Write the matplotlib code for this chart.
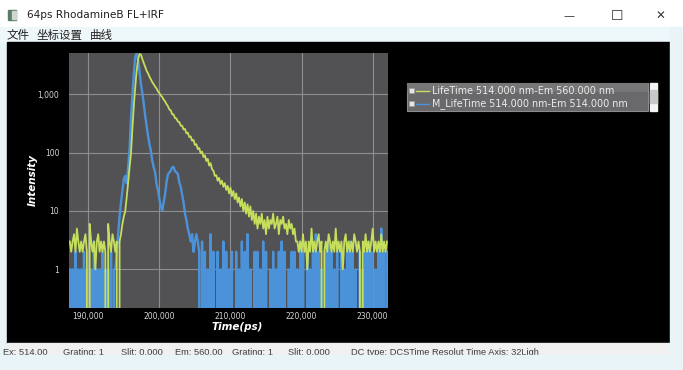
import numpy as np
import matplotlib
matplotlib.use("Agg")
import matplotlib.pyplot as plt
from matplotlib.patches import Rectangle
from matplotlib.ticker import FixedLocator, FixedFormatter, NullLocator

plt.rcParams["path.simplify"] = False

# ---------------- data ----------------
time_start = 187400      # ps, first channel shown
time_step = 200          # ps per plotted channel

# Fluorescence decay: LifeTime 514.000 nm-Em 560.000 nm
fl_counts = [
    3, 2, 3, 4, 2, 5, 3, 2, 3, 2, 3, 4, 2, 0, 6, 3, 2, 3, 1, 3,
    4, 2, 3, 2, 3, 2, 0, 6, 3, 2, 4, 3, 2, 3, 0,
    3, 4, 6, 8, 10, 17, 30, 55, 95, 250, 620, 1300, 2500, 3900, 4900,
    4800, 4020, 3430, 2960, 2540, 2290, 2010, 1810, 1610, 1490,
    1350, 1260, 1120, 1050, 950, 900, 810, 755, 680, 625,
    550, 530, 455, 450, 390, 385, 340, 335, 290, 290,
    250, 255, 215, 220, 185, 190, 160, 165, 135, 140,
    115, 120, 98, 104, 84, 90, 72, 78, 60, 66, 52,
    49, 40, 41, 33, 37, 29, 33, 26, 30, 23, 27, 20, 25, 18, 22, 16, 20, 14, 17, 12,
    16, 10, 14, 9, 13, 8, 12, 7, 10, 6, 9, 5, 8, 6, 9, 5, 7, 4, 8, 5,
    7, 6, 9, 5, 6, 8, 4, 7, 6, 8, 5, 6, 4, 7, 5, 6, 4, 5, 3,
    3, 2, 3, 2, 4, 2, 3, 1, 3, 2, 5, 2, 3, 2, 3, 4, 2, 3, 0, 2,
    3, 2, 4, 3, 2, 3, 2, 5, 2, 3, 2, 3, 1, 3, 4, 2, 3, 2, 3, 2,
    4, 3, 2, 3, 2, 0, 3, 2, 4, 2, 3, 2, 3, 5, 2, 3, 2, 3, 2, 4,
    2, 3, 2, 3,
]

# Instrument response: M_LifeTime 514.000 nm-Em 514.000 nm
irf_counts = [
    1, 0, 1, 0, 2, 0, 1, 0, 1, 0, 2, 0, 1, 0, 0, 1, 0, 3, 0, 1,
    0, 1, 0, 2, 0, 1, 0, 1, 0, 2, 0, 1,
    1, 2, 4, 8, 14, 22, 35, 40, 30, 55, 110, 380, 950, 2200, 4300, 5000, 3900, 2500, 1500, 1050,
    700, 430, 290, 195, 140, 108, 72, 56, 46, 29, 23, 16, 12, 10, 14, 19, 31, 42, 46, 49,
    56, 57, 48, 46, 43, 31, 26, 19, 14, 9, 7, 5, 4, 3, 4, 2, 3, 4, 3, 2,
    0, 3, 0, 2, 0, 1, 0, 4, 0, 2, 0, 0, 2, 0, 1, 0, 3, 0, 2, 0,
    1, 0, 2, 0, 0, 2, 0, 1, 0, 3, 0, 2, 0, 4, 0, 1, 0, 0, 2, 0,
    2, 0, 1, 0, 3, 0, 2, 0, 0, 1, 0, 2, 0, 1, 0, 2, 0, 3, 0, 2,
    0, 0, 1, 0, 2, 0, 2, 0, 1, 0, 3, 0, 2, 0, 0, 2, 0, 1, 0, 2,
    0, 4, 0, 2, 0, 1, 0, 0, 2, 0, 3, 0, 2, 0, 1, 0, 2, 0, 0, 2,
    0, 1, 0, 2, 0, 3, 0, 2, 0, 1, 0, 0, 2, 0, 1, 0, 2, 0, 3, 0,
    2, 0, 0, 1, 0, 2, 0, 5, 0, 2, 0, 2,
]

series_names = ["LifeTime 514.000 nm-Em 560.000 nm",
                "M_LifeTime 514.000 nm-Em 514.000 nm"]
x_ticks = [190000, 200000, 210000, 220000, 230000]
x_tick_labels = ["190,000", "200,000", "210,000", "220,000", "230,000"]
y_ticks = [1, 10, 100, 1000]
y_tick_labels = ["1", "10", "100", "1,000"]
x_range = (187290, 232150)
y_range = (0.22, 5100)

window_title = "64ps RhodamineB FL+IRF"
menu_items = [("文件", 7), ("坐标设置", 37), ("曲线", 90)]
status_items = [("Ex: 514.00", 3), ("Grating: 1", 63), ("Slit: 0.000", 121),
                ("Em: 560.00", 175), ("Grating: 1", 232), ("Slit: 0.000", 288),
                ("DC type: DCSTime Resolut Time Axis: 32Ligh", 351)]

time_ps = time_start + time_step * np.arange(len(fl_counts))
fl = np.array(fl_counts, dtype=float)
irf = np.array(irf_counts, dtype=float)

# ---------------- styling ----------------
W, H = 683, 370
FL_COLOR = "#c5df5c"
IRF_COLOR = "#4b92d8"
PLOT_BG = "#525254"
GRID = "#8e8e90"
OUTER = "#e9f4f8"

fig = plt.figure(figsize=(W / 100, H / 100), dpi=100)
fig.patch.set_facecolor(OUTER)

# window chrome drawn in pixel coordinates
bg = fig.add_axes([0, 0, 1, 1], zorder=0)
bg.set_xlim(0, W)
bg.set_ylim(H, 0)
bg.axis("off")
bg.add_patch(Rectangle((0, 0), W, 27, color="white", zorder=1))
bg.add_patch(Rectangle((0, 27), W, 15, color="#eef7fa", zorder=1))
bg.add_patch(Rectangle((7, 42), 663, 301, color="black", zorder=1))
bg.add_patch(Rectangle((7, 343), 663, 14, color="#f0f0f0", zorder=1))
bg.add_patch(Rectangle((0, 354.5), W, 16, color=OUTER, zorder=6))
bg.add_patch(Rectangle((670, 27), 13, 345, color=OUTER, zorder=6))

# title bar
bg.add_patch(Rectangle((8, 10), 8, 10, color="#5b7d66", zorder=2))
bg.add_patch(Rectangle((12, 11), 3.5, 8, color="#cfd8d0", zorder=2))
bg.text(27, 15.5, window_title, fontsize=7.6, color="#202020", va="center",
        ha="left", family="DejaVu Sans", zorder=3)
bg.text(569, 16, "—", fontsize=8, color="#333333", va="center", ha="center", zorder=3)
bg.text(617, 16, "☐", fontsize=10, color="#333333", va="center", ha="center", zorder=3)
bg.text(660, 16, "✕", fontsize=8.5, color="#333333", va="center", ha="center", zorder=3)

# menu
for label, x in menu_items:
    bg.text(x, 35.5, label, fontsize=8.3, color="#202020", va="center", ha="left",
            family=["Noto Sans CJK SC", "DejaVu Sans"], zorder=3)

# status bar (its lower part hidden by the outer strip, as in the screenshot)
for label, x in status_items:
    bg.text(x, 352.3, label, fontsize=6.7, color="#3a3a3a", va="center", ha="left",
            family="Liberation Sans", zorder=3)

# legend panel
bg.add_patch(Rectangle((407, 83), 241, 28, facecolor="#69696b", edgecolor="#8c8c8e",
                       lw=0.8, zorder=2))
bg.add_patch(Rectangle((407, 83), 241, 9, facecolor="#767678", edgecolor="none", zorder=2))
bg.add_patch(Rectangle((650, 83), 7, 28, color="#f4f4f4", zorder=2))
bg.add_patch(Rectangle((650, 90), 7, 13, color="#c8c8c8", zorder=2))
for k, (name, col) in enumerate(zip(series_names, [FL_COLOR, IRF_COLOR])):
    yy = 90.5 + 13 * k
    bg.add_patch(Rectangle((408.5, yy - 2.5), 5, 5, facecolor="#e6e6e6",
                           edgecolor="#9a9a9a", lw=0.5, zorder=3))
    bg.plot([416, 429], [yy, yy], color=col, lw=1.0, zorder=3)
    bg.text(432, yy, name, fontsize=6.9, color="#ececec", va="center", ha="left",
            family="DejaVu Sans", zorder=3)

# ---------------- main plot ----------------
ax_l, ax_r, ax_t, ax_b = 69, 388, 53, 307.7
ax = fig.add_axes([ax_l / W, 1 - ax_b / H, (ax_r - ax_l) / W, (ax_b - ax_t) / H], zorder=2)
ax.set_facecolor(PLOT_BG)
ax.set_yscale("log", nonpositive="clip")
ax.plot(time_ps, irf, color=IRF_COLOR, lw=1.7, zorder=3)
ax.plot(time_ps, fl, color=FL_COLOR, lw=1.3, zorder=4)
ax.set_xlim(*x_range)
ax.set_ylim(*y_range)

ax.xaxis.set_major_locator(FixedLocator(x_ticks))
ax.xaxis.set_major_formatter(FixedFormatter(x_tick_labels))
ax.yaxis.set_major_locator(FixedLocator(y_ticks))
ax.yaxis.set_major_formatter(FixedFormatter(y_tick_labels))
ax.xaxis.set_minor_locator(NullLocator())
ax.yaxis.set_minor_locator(NullLocator())
ax.tick_params(axis="both", length=0, labelsize=5.5, labelcolor="#d6d6d6")
ax.tick_params(axis="x", pad=3)
ax.tick_params(axis="y", pad=7)
ax.grid(True, color=GRID, lw=0.8)
ax.set_axisbelow(True)
for s in ax.spines.values():
    s.set_visible(False)

bg.text(237, 327.5, "Time(ps)", fontsize=7.5, color="white", fontweight="bold",
        fontstyle="italic", ha="center", va="center", zorder=3)
bg.text(33, 180, "Intensity", fontsize=7.5, color="white", fontweight="bold",
        fontstyle="italic", ha="center", va="center", rotation=90, zorder=3)

fig.savefig("out.png", dpi=100, facecolor=fig.get_facecolor())
